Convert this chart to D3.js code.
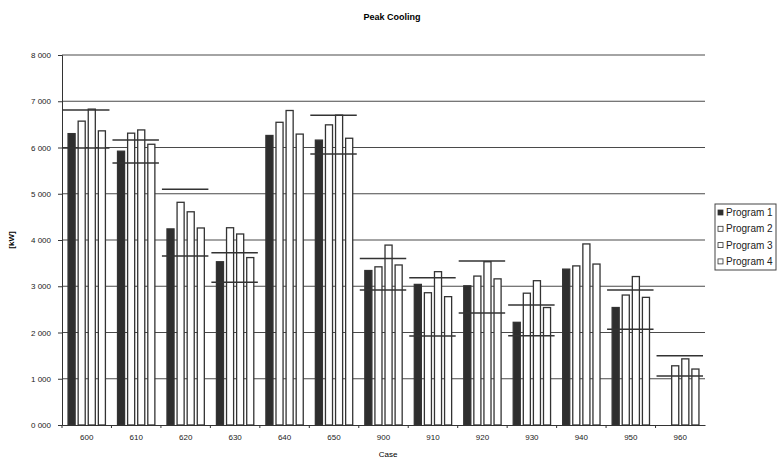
<!DOCTYPE html>
<html>
<head>
<meta charset="utf-8">
<script src="https://cdn.jsdelivr.net/npm/d3@7"></script>
<style>
    body { margin: 0; background: white; }
    text { font-family: "Liberation Sans", Arial, sans-serif; }
</style>
</head>
<body>
<div id="wrapper"></div>
<script>
// cases on the x axis
var cases = ["600", "610", "620", "630", "640", "650", "900", "910", "920", "930", "940", "950", "960"];
var programs = ["Program 1", "Program 2", "Program 3", "Program 4"];

// peak cooling [kW], one array per program (null = no result)
var program1 = [6300, 5920, 4240, 3530, 6260, 6160, 3340, 3040, 3010, 2220, 3370, 2540, null];
var program2 = [6570, 6310, 4815, 4265, 6545, 6490, 3420, 2860, 3220, 2850, 3440, 2810, 1280];
var program3 = [6830, 6380, 4610, 4130, 6800, 6700, 3890, 3315, 3530, 3120, 3915, 3210, 1430];
var program4 = [6360, 6070, 4260, 3620, 6290, 6200, 3460, 2775, 3160, 2540, 3480, 2760, 1210];

// reference range lines per case (null = no range drawn)
var rangeMin = [5990, 5665, 3655, 3085, null, 5860, 2920, 1925, 2420, 1930, null, 2070, 1060];
var rangeMax = [6810, 6160, 5100, 3725, null, 6700, 3600, 3185, 3545, 2595, null, 2920, 1500];

var yTicks = [0, 1000, 2000, 3000, 4000, 5000, 6000, 7000, 8000];

function create(){
    const dimension = {
        width: 778,
        height: 461,
        margin: { top: 55, right: 73, bottom: 36, left: 62 }
    };
    dimension.boundedWidth  = dimension.width  - dimension.margin.left - dimension.margin.right;
    dimension.boundedHeight = dimension.height - dimension.margin.top  - dimension.margin.bottom;

    const series = [program1, program2, program3, program4];
    const fills = ["#2e2e2e", "#ffffff", "#ffffff", "#ffffff"];

    const svg = d3.select("#wrapper")
        .append("svg")
        .attr("width", dimension.width)
        .attr("height", dimension.height);

    const g = svg.append("g")
        .attr("transform", "translate(" + dimension.margin.left + "," + dimension.margin.top + ")");

    var x = d3.scaleBand()
        .domain(cases)
        .range([0, dimension.boundedWidth]);

    var x1 = d3.scaleBand()
        .domain(programs)
        .range([0, x.bandwidth()])
        .paddingInner(0.3)
        .paddingOuter(0.6);

    var y = d3.scaleLinear()
        .domain([0, 8000])
        .range([dimension.boundedHeight, 0]);

    // gridlines
    g.append("g")
        .selectAll("line")
        .data(yTicks.filter(d => d > 0))
        .enter()
        .append("line")
        .attr("x1", 0)
        .attr("x2", dimension.boundedWidth)
        .attr("y1", d => y(d))
        .attr("y2", d => y(d))
        .attr("stroke", "#4a4a4a")
        .attr("stroke-width", 1.1);

    // Y axis
    var yAxis = g.append("g")
        .call(d3.axisLeft(y)
            .tickValues(yTicks)
            .tickSize(4)
            .tickFormat(d => Math.floor(d / 1000) + " 000"));
    yAxis.select(".domain").attr("stroke", "#333");
    yAxis.selectAll(".tick line").attr("stroke", "#333");
    yAxis.selectAll("text")
        .attr("x", -11)
        .attr("font-size", 8)
        .attr("fill", "#222");

    // X axis
    var xAxis = g.append("g")
        .attr("transform", "translate(0," + dimension.boundedHeight + ")")
        .call(d3.axisBottom(x).tickSize(0).tickPadding(9));
    xAxis.select(".domain").attr("stroke", "#333");
    xAxis.selectAll("text")
        .attr("font-size", 8)
        .attr("fill", "#222");
    // small tick marks between the cases
    xAxis.append("g")
        .selectAll("line")
        .data(cases)
        .enter()
        .append("line")
        .attr("x1", d => x(d))
        .attr("x2", d => x(d))
        .attr("y1", 0)
        .attr("y2", 3)
        .attr("stroke", "#333");

    // bars
    series.forEach(function(values, i){
        g.append("g")
            .attr("class", "program" + (i + 1))
            .selectAll("rect")
            .data(cases.map((c, j) => ({ c: c, v: values[j] })).filter(d => d.v !== null))
            .enter()
            .append("rect")
            .attr("x", d => x(d.c) + x1(programs[i]))
            .attr("y", d => y(d.v))
            .attr("width", x1.bandwidth())
            .attr("height", d => y(0) - y(d.v))
            .attr("fill", fills[i])
            .attr("stroke", "#333")
            .attr("stroke-width", 1.3);
    });

    // reference range lines
    var ranges = [];
    cases.forEach(function(c, j){
        if (rangeMin[j] !== null) ranges.push({ c: c, v: rangeMin[j] });
        if (rangeMax[j] !== null) ranges.push({ c: c, v: rangeMax[j] });
    });
    g.append("g")
        .selectAll("line")
        .data(ranges)
        .enter()
        .append("line")
        .attr("x1", d => x(d.c) + 1)
        .attr("x2", d => x(d.c) + x.bandwidth() - 2)
        .attr("y1", d => y(d.v))
        .attr("y2", d => y(d.v))
        .attr("stroke", "#333")
        .attr("stroke-width", 1.5);

    // title and axis labels
    svg.append("text")
        .attr("x", 392)
        .attr("y", 20)
        .attr("text-anchor", "middle")
        .attr("font-size", 9)
        .attr("font-weight", "bold")
        .text("Peak Cooling");

    svg.append("text")
        .attr("x", 388)
        .attr("y", 457)
        .attr("text-anchor", "middle")
        .attr("font-size", 8)
        .text("Case");

    svg.append("text")
        .attr("transform", "translate(14,240) rotate(-90)")
        .attr("text-anchor", "middle")
        .attr("font-size", 8)
        .attr("font-weight", "bold")
        .text("[kW]");

    // legend (runs off the right edge like the original)
    var legend = svg.append("g")
        .attr("transform", "translate(715,204)");
    legend.append("rect")
        .attr("width", 61)
        .attr("height", 66)
        .attr("fill", "white")
        .attr("stroke", "#444");
    var item = legend.selectAll(".item")
        .data(programs)
        .enter()
        .append("g")
        .attr("class", "item")
        .attr("transform", (d, i) => "translate(3," + (9 + i * 16.3) + ")");
    item.append("rect")
        .attr("y", -3)
        .attr("width", 5)
        .attr("height", 5)
        .attr("fill", (d, i) => fills[i])
        .attr("stroke", "#333")
        .attr("stroke-width", 0.8);
    item.append("text")
        .attr("x", 8)
        .attr("y", 3)
        .attr("font-size", 10)
        .attr("fill", "#222")
        .text(d => d);
}
create();
</script>
</body>
</html>
